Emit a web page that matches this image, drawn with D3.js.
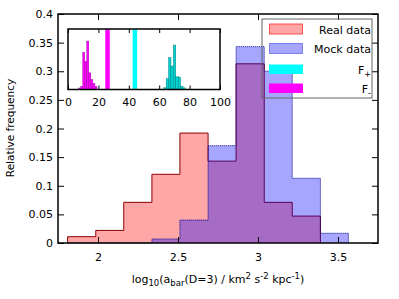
<!DOCTYPE html>
<html>
<head>
<meta charset="utf-8">
<script src="https://cdn.jsdelivr.net/npm/d3@7"></script>
<style>
body { margin: 0; background: #fff; }
text { font-family: "DejaVu Sans", sans-serif; }
</style>
</head>
<body>
<svg id="chart"></svg>
<script>
// histogram bins, main panel
const binEdges = [1.81, 1.986, 2.161, 2.337, 2.512, 2.688, 2.863, 3.039, 3.214, 3.39, 3.565];
const realFreq = [0.011, 0.022, 0.071, 0.12, 0.192, 0.143, 0.313, 0.071, 0.047];
const mockFreq = [0, 0, 0, 0.007, 0.040, 0.170, 0.343, 0.300, 0.113, 0.017];
const xTicks = [2, 2.5, 3, 3.5];
const yTicks = [0, 0.05, 0.1, 0.15, 0.2, 0.25, 0.3, 0.35, 0.4];

// inset
const minusEdges = [7, 8.34, 9.68, 11.02, 12.36, 13.7, 15.04, 16.38, 17.72, 19.06];
const minusFreq = [0.01, 0.02, 0.245, 0.185, 0.32, 0.11, 0.065, 0.04, 0.02];
const plusEdges = [63, 64.58, 66.16, 67.74, 69.32, 70.9, 72.48, 74.06, 75.64, 77.22];
const plusFreq = [0.011, 0.071, 0.21, 0.155, 0.294, 0.084, 0.082, 0.022, 0.011];
const fMinusObs = 26, fPlusObs = 44;
const insetTicks = [0, 20, 40, 60, 80, 100];

const legendItems = ["Real data", "Mock data", "F+", "F-"];

const W = 399, H = 299;
const svg = d3.select('#chart').attr('width', W).attr('height', H);

const mL = 58, mR = 378, mT = 14, mB = 243;
const x = d3.scaleLinear().domain([1.75, 3.75]).range([mL, mR]);
const y = d3.scaleLinear().domain([0, 0.4]).range([mB, mT]);

// step outline of a histogram
function stepPoints(edges, vals) {
    let pts = [[edges[0], 0]];
    vals.forEach((v, i) => { pts.push([edges[i], v]); pts.push([edges[i + 1], v]); });
    pts.push([edges[vals.length], 0]);
    return pts;
}
const line = d3.line().x(d => x(d[0])).y(d => y(d[1]));

const realPts = stepPoints(binEdges, realFreq);
const mockPts = stepPoints(binEdges, mockFreq);

svg.append('path').attr('d', line(realPts) + 'Z')
    .attr('fill', '#ff0000').attr('fill-opacity', 0.35).attr('stroke', 'none');
svg.append('path').attr('d', line(realPts))
    .attr('fill', 'none').attr('stroke', '#8b0000').attr('stroke-width', 1);
svg.append('path').attr('d', line(mockPts) + 'Z')
    .attr('fill', '#0000ff').attr('fill-opacity', 0.35).attr('stroke', 'none');
svg.append('path').attr('d', line(mockPts))
    .attr('fill', 'none').attr('stroke', '#00008b').attr('stroke-width', 1)
    .attr('stroke-dasharray', '1,1');

// axes, ticks inward
svg.append('g').attr('transform', `translate(0,${mB})`)
    .call(d3.axisBottom(x).tickValues(xTicks).tickSize(-6).tickPadding(10).tickFormat(d3.format('')))
    .call(g => g.select('.domain').remove());
svg.append('g').attr('transform', `translate(0,${mT})`)
    .call(d3.axisTop(x).tickValues(xTicks).tickSize(-6).tickFormat(''))
    .call(g => g.select('.domain').remove());
svg.append('g').attr('transform', `translate(${mL},0)`)
    .call(d3.axisLeft(y).tickValues(yTicks).tickSize(-6).tickPadding(5).tickFormat(d3.format('')))
    .call(g => g.select('.domain').remove());
svg.append('g').attr('transform', `translate(${mR},0)`)
    .call(d3.axisRight(y).tickValues(yTicks).tickSize(-6).tickFormat(''))
    .call(g => g.select('.domain').remove());
svg.selectAll('.tick text').attr('font-size', 11).attr('fill', '#000')
    .attr('font-family', '"DejaVu Sans", sans-serif');
svg.selectAll('.tick line').attr('stroke', '#000');

svg.append('rect').attr('x', mL).attr('y', mT)
    .attr('width', mR - mL).attr('height', mB - mT)
    .attr('fill', 'none').attr('stroke', '#000').attr('stroke-width', 1.5);

// axis titles
const xt = svg.append('text').attr('x', 218).attr('y', 283)
    .attr('text-anchor', 'middle').attr('font-size', 11);
xt.append('tspan').text('log');
xt.append('tspan').text('10').attr('font-size', 8.5).attr('dy', 3);
xt.append('tspan').text('(a').attr('dy', -3);
xt.append('tspan').text('bar').attr('font-size', 8.5).attr('dy', 3);
xt.append('tspan').text('(D=3) / km').attr('dy', -3);
xt.append('tspan').text('2').attr('font-size', 8.5).attr('dy', -4);
xt.append('tspan').text(' s').attr('dy', 4);
xt.append('tspan').text('-2').attr('font-size', 8.5).attr('dy', -4);
xt.append('tspan').text(' kpc').attr('dy', 4);
xt.append('tspan').text('-1').attr('font-size', 8.5).attr('dy', -4);
xt.append('tspan').text(')').attr('dy', 4);

svg.append('text').attr('transform', 'translate(14,128) rotate(-90)')
    .attr('text-anchor', 'middle').attr('font-size', 10.5).text('Relative frequency');

// legend (no fill, drawn over the bars)
const lg = svg.append('g');
lg.append('rect').attr('x', 262).attr('y', 19).attr('width', 110).attr('height', 79)
    .attr('fill', 'none').attr('stroke', '#666').attr('stroke-width', 1);
const swY = [24, 43.5, 64.5, 83.5];
lg.append('rect').attr('x', 269.5).attr('y', swY[0]).attr('width', 33).attr('height', 10)
    .attr('fill', '#ffa6a6').attr('stroke', '#ff3030').attr('stroke-width', 0.8);
lg.append('rect').attr('x', 269.5).attr('y', swY[1]).attr('width', 33).attr('height', 10)
    .attr('fill', '#a6a6ff').attr('stroke', '#0000cc').attr('stroke-width', 0.8)
    .attr('stroke-dasharray', '1,1');
lg.append('rect').attr('x', 269).attr('y', swY[2]).attr('width', 34).attr('height', 9.5)
    .attr('fill', '#00ffff');
lg.append('rect').attr('x', 269).attr('y', swY[3]).attr('width', 34).attr('height', 9.5)
    .attr('fill', '#ff00ff');
lg.append('text').attr('x', 371).attr('y', 33.5).attr('text-anchor', 'end')
    .attr('font-size', 11).text(legendItems[0]);
lg.append('text').attr('x', 371).attr('y', 52.5).attr('text-anchor', 'end')
    .attr('font-size', 11).text(legendItems[1]);
[[legendItems[2], 73.5], [legendItems[3], 92.5]].forEach(([lab, yy]) => {
    const t = lg.append('text').attr('x', 371).attr('y', yy).attr('text-anchor', 'end')
        .attr('font-size', 11);
    t.append('tspan').text(lab[0]);
    t.append('tspan').text(lab[1]).attr('font-size', 8).attr('dy', 3);
});

// inset
const iL = 68, iR = 220, iT = 29, iB = 89.5;
const ix = d3.scaleLinear().domain([0, 100]).range([iL, iR]);
const iy = d3.scaleLinear().domain([0, 0.4]).range([iB, iT]);
const inset = svg.append('g');
inset.append('rect').attr('x', iL).attr('y', iT).attr('width', iR - iL).attr('height', iB - iT)
    .attr('fill', '#fff');

function insetBars(edges, vals, fill, stroke) {
    inset.append('g').selectAll('rect').data(vals).join('rect')
        .attr('x', (d, i) => ix(edges[i]))
        .attr('width', (d, i) => ix(edges[i + 1]) - ix(edges[i]))
        .attr('y', d => iy(d))
        .attr('height', d => iy(0) - iy(d))
        .attr('fill', fill).attr('stroke', stroke).attr('stroke-width', 0.4);
}
insetBars(minusEdges, minusFreq, '#ff00ff', '#a000a0');
insetBars(plusEdges, plusFreq, '#00d2d2', '#007070');

inset.append('line').attr('x1', ix(fMinusObs)).attr('x2', ix(fMinusObs))
    .attr('y1', iT).attr('y2', iB).attr('stroke', '#ff00ff').attr('stroke-width', 4.5);
inset.append('line').attr('x1', ix(fPlusObs)).attr('x2', ix(fPlusObs))
    .attr('y1', iT).attr('y2', iB).attr('stroke', '#00ffff').attr('stroke-width', 4.5);

inset.append('g').attr('transform', `translate(0,${iB})`)
    .call(d3.axisBottom(ix).tickValues(insetTicks).tickSize(-4).tickPadding(9))
    .call(g => g.select('.domain').remove());
inset.append('g').attr('transform', `translate(0,${iT})`)
    .call(d3.axisTop(ix).tickValues(insetTicks).tickSize(-4).tickFormat(''))
    .call(g => g.select('.domain').remove());
inset.selectAll('.tick text').attr('font-size', 11).attr('fill', '#000')
    .attr('font-family', '"DejaVu Sans", sans-serif');
inset.selectAll('.tick line').attr('stroke', '#000');
inset.append('rect').attr('x', iL).attr('y', iT).attr('width', iR - iL).attr('height', iB - iT)
    .attr('fill', 'none').attr('stroke', '#000').attr('stroke-width', 1.5);
</script>
</body>
</html>
